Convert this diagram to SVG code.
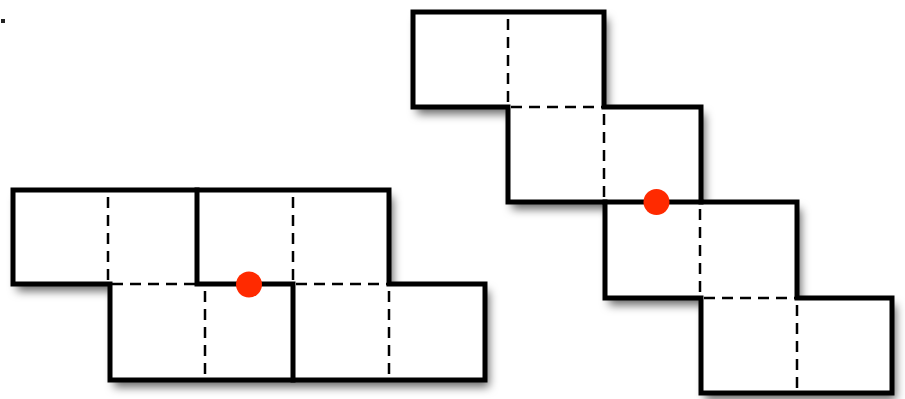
<svg xmlns="http://www.w3.org/2000/svg" width="905" height="399" viewBox="0 0 905 399">
<defs>
<filter id="sh" x="-10%" y="-10%" width="130%" height="140%">
<feDropShadow dx="4" dy="7" stdDeviation="5" flood-color="#000" flood-opacity="0.6"/>
</filter>
<style>
.bg{fill:#fff;stroke:none}
.out{fill:none;stroke:#000;stroke-width:5;stroke-linejoin:miter;stroke-linecap:square}
.thick{fill:none;stroke:#000;stroke-width:5;stroke-linecap:square}
.dash{fill:none;stroke:#000;stroke-width:2.5;stroke-dasharray:11 7}
.dot{fill:#ff2a00}
</style>
</defs>
<rect x="0" y="0" width="905" height="399" fill="#fff"/>
<rect x="1" y="19" width="4" height="4" fill="#222"/>

<g id="shapeLeft">
<polygon class="bg" filter="url(#sh)" points="13,190 389,190 389,284 485,284 485,380 110,380 110,284 13,284"/>
<g id="rectA">
<line class="dash" x1="108" y1="197" x2="108" y2="280"/>
</g>
<g id="rectB">
<line class="dash" x1="293" y1="197" x2="293" y2="280"/>
</g>
<g id="rectC">
<line class="dash" x1="205" y1="291" x2="205" y2="376"/>
<line class="dash" x1="112" y1="284" x2="197" y2="284"/>
</g>
<g id="rectD">
<line class="dash" x1="389" y1="291" x2="389" y2="376"/>
<line class="dash" x1="296" y1="284" x2="389" y2="284"/>
</g>
<polygon class="out" points="13,190 389,190 389,284 485,284 485,380 110,380 110,284 13,284"/>
<path class="thick" d="M197,190 V284 H293 V380"/>
<circle class="dot" cx="249" cy="284.5" r="13"/>
</g>

<g id="shapeRight">
<polygon class="bg" filter="url(#sh)" points="413,12 604,12 604,107 701,107 701,202 797,202 797,298 892,298 892,393 701,393 701,298 605,298 605,202 508,202 508,107 413,107"/>
<g id="rect1">
<line class="dash" x1="508" y1="19" x2="508" y2="103"/>
</g>
<g id="rect2">
<line class="dash" x1="604" y1="114" x2="604" y2="198"/>
<line class="dash" x1="511" y1="107" x2="604" y2="107"/>
</g>
<g id="rect3">
<line class="dash" x1="700" y1="209" x2="700" y2="294"/>
</g>
<g id="rect4">
<line class="dash" x1="797" y1="305" x2="797" y2="389"/>
<line class="dash" x1="704" y1="298" x2="797" y2="298"/>
</g>
<polygon class="out" points="413,12 604,12 604,107 701,107 701,202 797,202 797,298 892,298 892,393 701,393 701,298 605,298 605,202 508,202 508,107 413,107"/>
<path class="thick" d="M605,202 H701"/>
<circle class="dot" cx="656.5" cy="202" r="13"/>
</g>
</svg>
